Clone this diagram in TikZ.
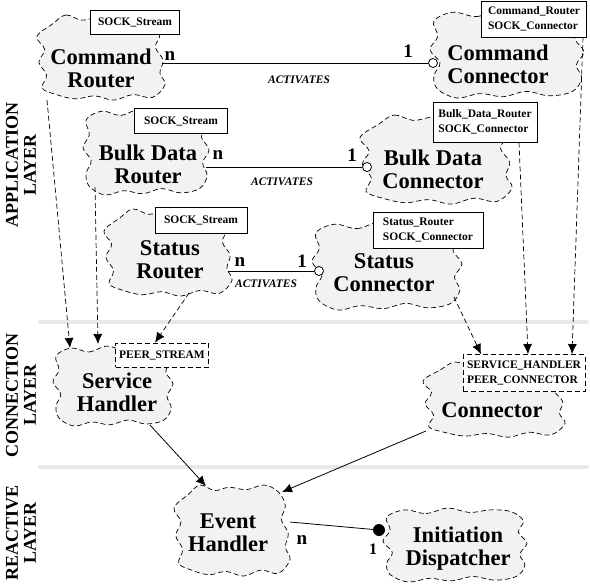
\documentclass[tikz,border=0pt]{standalone}
\usepackage{fontspec}
\setmainfont{Liberation Serif}
\usetikzlibrary{arrows.meta,backgrounds}
\tikzset{
  cloudline/.style={draw=black, fill=black!5, line width=0.7pt, dash pattern=on 5pt off 3pt},
  cloudtext/.style={font=\fontsize{22.5}{23}\selectfont\bfseries, align=center, inner sep=0pt},
  tagbox/.style={draw=black, fill=white, line width=0.8pt, font=\fontsize{11.5}{15}\selectfont\bfseries,
    align=left, inner sep=0pt},
  peerbox/.style={tagbox, dash pattern=on 5pt off 3pt},
  mult/.style={font=\fontsize{19}{19}\selectfont\bfseries, inner sep=0pt},
  actlabel/.style={font=\fontsize{11.5}{12}\selectfont\bfseries\itshape, inner sep=0pt},
  layerlabel/.style={rotate=90, font=\fontsize{18}{18}\selectfont\bfseries, align=center, inner sep=0pt},
  sepline/.style={line width=4pt, draw=black!9, line cap=round},
  assoc/.style={line width=0.8pt},
  opencirc/.style={circle, draw=black, fill=white, line width=0.8pt, inner sep=0pt, minimum size=9pt},
  dotcirc/.style={circle, fill=black, inner sep=0pt, minimum size=12pt},
  dasharrow/.style={-{Latex[length=10pt,width=9pt]}, line width=0.7pt, dash pattern=on 5pt off 3pt},
  flowarrow/.style={-{Latex[length=10pt,width=9pt]}, line width=0.8pt}
}
% wavy outline round a centre, #2 and #3 are the half sizes
\newcommand\blob[3]{%
  \draw[cloudline, shift={(#1)}, xscale=#2, yscale=#3]
    plot[smooth cycle, tension=0.6] coordinates {
      (-0.75,-0.80) (-0.55,-1.00) (-0.30,-0.88) (-0.05,-0.95) (0.25,-0.90) (0.55,-1.00)
      (0.80,-0.85) (0.92,-0.55) (0.85,-0.25) (0.97,0.05) (0.92,0.35) (1.00,0.62)
      (0.80,0.92) (0.50,0.85) (0.20,0.98) (-0.10,0.88) (-0.40,0.95) (-0.70,0.85)
      (-0.92,0.70) (-0.85,0.40) (-0.97,0.10) (-0.88,-0.20) (-1.00,-0.50)};}
\newcommand\blobb[3]{%
  \draw[cloudline, shift={(#1)}, xscale=#2, yscale=#3]
    plot[smooth cycle, tension=0.6] coordinates {
      (-0.70,-0.95) (-0.40,-0.85) (-0.10,-1.00) (0.20,-0.88) (0.50,-0.95) (0.78,-0.90)
      (0.95,-0.65) (0.88,-0.35) (1.00,-0.05) (0.90,0.25) (0.97,0.55) (0.85,0.85)
      (0.55,0.95) (0.25,0.85) (-0.05,0.97) (-0.35,0.90) (-0.65,1.00) (-0.90,0.80)
      (-0.95,0.50) (-0.87,0.20) (-1.00,-0.10) (-0.90,-0.40) (-0.95,-0.75)};}

\begin{document}
\begin{tikzpicture}[x=1pt, y=-1pt]
  \useasboundingbox (0,0) rectangle (590,584);

  % layers
  \node[layerlabel] (app) at (21,165) {APPLICATION\\LAYER};
  \node[layerlabel] (con) at (21,395) {CONNECTION\\LAYER};
  \node[layerlabel] (rea) at (21,533) {REACTIVE\\LAYER};

  % components
  \node[cloudtext] (cmdR) at (101,68) {Command\\Router};
  \node[cloudtext] (cmdC) at (498,64) {Command\\Connector};
  \node[cloudtext] (bulkR) at (148,164) {Bulk Data\\Router};
  \node[cloudtext] (bulkC) at (433,169) {Bulk Data\\Connector};
  \node[cloudtext] (statR) at (170,260) {Status\\Router};
  \node[cloudtext] (statC) at (384,273) {Status\\Connector};
  \node[cloudtext] (svcH) at (117,392) {Service\\Handler};
  \node[cloudtext] (conn) at (492,410) {Connector};
  \node[cloudtext] (evH) at (228,533) {Event\\Handler};
  \node[cloudtext] (initD) at (458,549) {Initiation\\Dispatcher};

  % class tags
  \node[tagbox, minimum width=89, minimum height=24] (cmdR-tag) at (135,22) {SOCK\_Stream};
  \node[tagbox, minimum width=105, minimum height=36] (cmdC-tag) at (534,19) {Command\_Router\\SOCK\_Connector};
  \node[tagbox, minimum width=93, minimum height=25] (bulkR-tag) at (181,121) {SOCK\_Stream};
  \node[tagbox, minimum width=104, minimum height=40] (bulkC-tag) at (485,122) {Bulk\_Data\_Router\\SOCK\_Connector};
  \node[tagbox, minimum width=92, minimum height=26] (statR-tag) at (201,220) {SOCK\_Stream};
  \node[tagbox, minimum width=110, minimum height=36] (statC-tag) at (428,230) {Status\_Router\\SOCK\_Connector};
  \node[peerbox, minimum width=93, minimum height=24] (svcH-tag) at (162,355) {PEER\_STREAM};
  \node[peerbox, minimum width=122, minimum height=37] (conn-tag) at (524,373) {SERVICE\_HANDLER\\PEER\_CONNECTOR};

  % activates links
  \coordinate (cmdR-e) at (162,63);
  \node[opencirc] (cmdC-o) at (433,63) {};
  \draw[assoc] (cmdR-e) -- (cmdC-o);
  \node[mult] (cmdR-n) at (170,56) {n};
  \node[mult] (cmdC-1) at (408,51) {1};
  \node[actlabel] (cmdAct) at (299,80) {ACTIVATES};

  \coordinate (bulkR-e) at (206,167);
  \node[opencirc] (bulkC-o) at (367,167) {};
  \draw[assoc] (bulkR-e) -- (bulkC-o);
  \node[mult] (bulkR-n) at (218,155) {n};
  \node[mult] (bulkC-1) at (352,155) {1};
  \node[actlabel] (bulkAct) at (282,182) {ACTIVATES};

  \coordinate (statR-e) at (228,271);
  \node[opencirc] (statC-o) at (319,271) {};
  \draw[assoc] (statR-e) -- (statC-o);
  \node[mult] (statR-n) at (240,262) {n};
  \node[mult] (statC-1) at (302,261) {1};
  \node[actlabel] (statAct) at (266,284) {ACTIVATES};

  % inherits
  \coordinate (cmdR-s) at (47,100);
  \coordinate (bulkR-s) at (95,187);
  \coordinate (statR-s) at (189,293);
  \coordinate (statC-s) at (454,297);
  \coordinate (svcH-n1) at (70,348);
  \coordinate (svcH-n2) at (98,344);
  \draw[dasharrow] (cmdR-s) -- (svcH-n1);
  \draw[dasharrow] (bulkR-s) -- (svcH-n2);
  \draw[dasharrow] (statR-s) -- ([xshift=-7pt]svcH-tag.north);
  \draw[dasharrow] (statC-s) -- ([xshift=-43pt]conn-tag.north);
  \draw[dasharrow] ([xshift=34pt]bulkC-tag.south) -- ([xshift=4pt]conn-tag.north);
  \draw[dasharrow] ([xshift=49pt]cmdC-tag.south) -- ([xshift=48pt]conn-tag.north);

  % reactive layer
  \coordinate (svcH-s) at (150,425);
  \coordinate (conn-sw) at (426,431);
  \coordinate (evH-n1) at (206,486);
  \coordinate (evH-n2) at (282,492);
  \draw[flowarrow] (svcH-s) -- (evH-n1);
  \draw[flowarrow] (conn-sw) -- (evH-n2);

  \coordinate (evH-e) at (290,522);
  \node[dotcirc] (initD-d) at (379,530) {};
  \draw[assoc] (evH-e) -- (initD-d);
  \node[mult] (evH-n) at (302,540) {n};
  \node[mult, font=\fontsize{16}{16}\selectfont\bfseries] (initD-1) at (373,549) {1};

  \begin{scope}[on background layer]
    \draw[sepline] (40,322) -- (587,322);
    \draw[sepline] (40,467) -- (587,467);
    \blob{101,58}{64}{43}
    \blobb{507,54}{77}{44}
    \blobb{146,152}{63}{43}
    \blob{436,160}{76}{45}
    \blob{168,253}{64}{44}
    \blobb{387,266}{75}{44}
    \blobb{113,386}{60}{40}
    \blob{494,400}{71}{38}
    \blob{232,531}{58}{46}
    \blobb{455,545}{72}{37}
  \end{scope}
\end{tikzpicture}
\end{document}
